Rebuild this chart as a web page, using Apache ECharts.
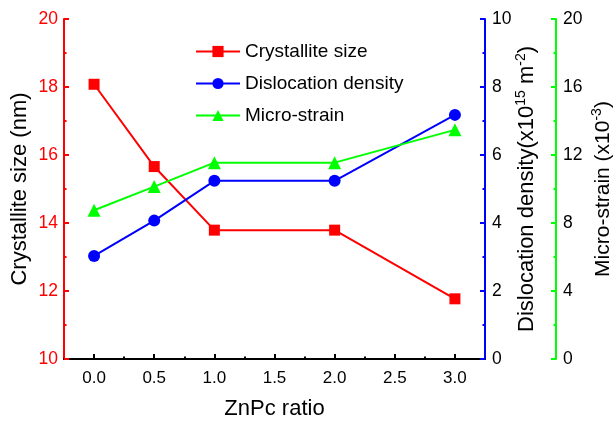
<!DOCTYPE html>
<html>
<head>
<meta charset="utf-8">
<script src="https://cdn.jsdelivr.net/npm/echarts@6/dist/echarts.min.js"></script>
<style>
  html, body { margin: 0; padding: 0; background: #fff; }
  #chart { width: 613px; height: 423px; }
</style>
</head>
<body>
<div id="chart"></div>
<script>
// ZnPc ratio (x values)
const ratio = [0, 0.5, 1, 2, 3];
// crystallite size (nm), left axis
const crystalliteSize = [18.08, 15.66, 13.79, 13.79, 11.77];
// dislocation density (x10^15 m^-2), first right axis
const dislocationDensity = [3.03, 4.07, 5.24, 5.24, 7.18];
// micro-strain (x10^-3), second right axis
const microStrain = [8.75, 10.14, 11.55, 11.55, 13.48];
// x tick positions
const xMajor = [0, 0.5, 1, 1.5, 2, 2.5, 3];
const xMinor = [0.25, 0.75, 1.25, 1.75, 2.25, 2.75];

const font = 'Liberation Sans, Arial, sans-serif';

function pairs(ys) {
  return ratio.map((x, i) => [x, ys[i]]);
}

// rich text for rotated axis names with superscripts
function richName(size) {
  return {
    rich: {
      n: { fontSize: size, color: '#000', fontFamily: font, verticalAlign: 'bottom', lineHeight: 24 },
      s: { fontSize: Math.round(size * 0.65), color: '#000', fontFamily: font, verticalAlign: 'top', lineHeight: 24 }
    }
  };
}

let myChart = echarts.init(document.getElementById('chart'));

let option = {
  animation: false,
  textStyle: { fontFamily: font },
  grid: { left: 64, right: 128, top: 19, bottom: 64, outerBoundsMode: 'none', containLabel: false },
  legend: {
    orient: 'vertical',
    left: 190,
    top: 37,
    itemGap: 13,
    itemWidth: 44,
    itemHeight: 14,
    textStyle: { fontSize: 19, color: '#000', fontFamily: font },
    data: ['Crystallite size', 'Dislocation density', 'Micro-strain']
  },
  xAxis: [
    {
      type: 'value',
      min: -0.25,
      max: 3.25,
      name: 'ZnPc ratio',
      nameLocation: 'middle',
      nameGap: 39,
      nameMoveOverlap: false,
      nameTextStyle: { fontSize: 22, color: '#000', fontFamily: font },
      axisLine: { onZero: false, lineStyle: { color: '#000', width: 2 } },
      axisTick: { inside: true, length: 5, customValues: xMajor, lineStyle: { color: '#000', width: 2 } },
      axisLabel: {
        customValues: xMajor,
        fontSize: 17, color: '#000', margin: 11,
        formatter: v => v.toFixed(1)
      },
      splitLine: { show: false }
    },
    {
      type: 'value',
      position: 'bottom',
      min: -0.25,
      max: 3.25,
      axisLine: { show: false, onZero: false },
      axisTick: { inside: true, length: 2.5, customValues: xMinor, lineStyle: { color: '#000', width: 2 } },
      axisLabel: { show: false },
      splitLine: { show: false }
    }
  ],
  yAxis: [
    {
      type: 'value',
      min: 10, max: 20, interval: 2,
      position: 'left',
      name: 'Crystallite size (nm)',
      nameLocation: 'middle',
      nameGap: 33,
      nameMoveOverlap: false,
      nameTextStyle: { fontSize: 22, color: '#000', fontFamily: font },
      axisLine: { show: true, onZero: false, lineStyle: { color: '#ff0000', width: 2 } },
      axisTick: { inside: true, length: 5, lineStyle: { width: 2 } },
      minorTick: { show: true, splitNumber: 2, length: 2.5, lineStyle: { color: '#ff0000', width: 2 } },
      axisLabel: { fontSize: 17.5, color: '#ff0000', margin: 6 },
      splitLine: { show: false }
    },
    {
      type: 'value',
      min: 0, max: 10, interval: 2,
      position: 'right',
      name: '{n|Dislocation density(x10}{s|15}{n| m}{s|-2}{n|)}',
      nameLocation: 'middle',
      nameRotate: 90,
      nameGap: 29,
      nameMoveOverlap: false,
      nameTextStyle: richName(22),
      axisLine: { show: true, onZero: false, lineStyle: { color: '#0000ff', width: 2 } },
      axisTick: { inside: true, length: 5, lineStyle: { width: 2 } },
      minorTick: { show: true, splitNumber: 2, length: 2.5, lineStyle: { color: '#0000ff', width: 2 } },
      axisLabel: { fontSize: 17.5, color: '#000', margin: 7 },
      splitLine: { show: false }
    },
    {
      type: 'value',
      min: 0, max: 20, interval: 4,
      position: 'right',
      offset: 71,
      name: '{n|Micro-strain (x10}{s|-3}{n|)}',
      nameLocation: 'middle',
      nameRotate: 90,
      nameGap: 34,
      nameMoveOverlap: false,
      nameTextStyle: richName(21),
      axisLine: { show: true, onZero: false, lineStyle: { color: '#00ff00', width: 2 } },
      axisTick: { inside: true, length: 5, lineStyle: { width: 2 } },
      minorTick: { show: true, splitNumber: 2, length: 2.5, lineStyle: { color: '#00ff00', width: 2 } },
      axisLabel: { fontSize: 17.5, color: '#000', margin: 7 },
      splitLine: { show: false }
    }
  ],
  series: [
    {
      name: 'Crystallite size',
      type: 'line',
      xAxisIndex: 0,
      yAxisIndex: 0,
      data: pairs(crystalliteSize),
      symbol: 'rect',
      symbolSize: 11,
      color: '#ff0000',
      lineStyle: { width: 2, color: '#ff0000' },
      itemStyle: { color: '#ff0000' }
    },
    {
      name: 'Dislocation density',
      type: 'line',
      xAxisIndex: 0,
      yAxisIndex: 1,
      data: pairs(dislocationDensity),
      symbol: 'circle',
      symbolSize: 12,
      color: '#0000ff',
      lineStyle: { width: 2, color: '#0000ff' },
      itemStyle: { color: '#0000ff' }
    },
    {
      name: 'Micro-strain',
      type: 'line',
      xAxisIndex: 0,
      yAxisIndex: 2,
      data: pairs(microStrain),
      symbol: 'triangle',
      symbolSize: 13,
      color: '#00ff00',
      lineStyle: { width: 2, color: '#00ff00' },
      itemStyle: { color: '#00ff00' }
    }
  ]
};

myChart.setOption(option);
</script>
</body>
</html>
